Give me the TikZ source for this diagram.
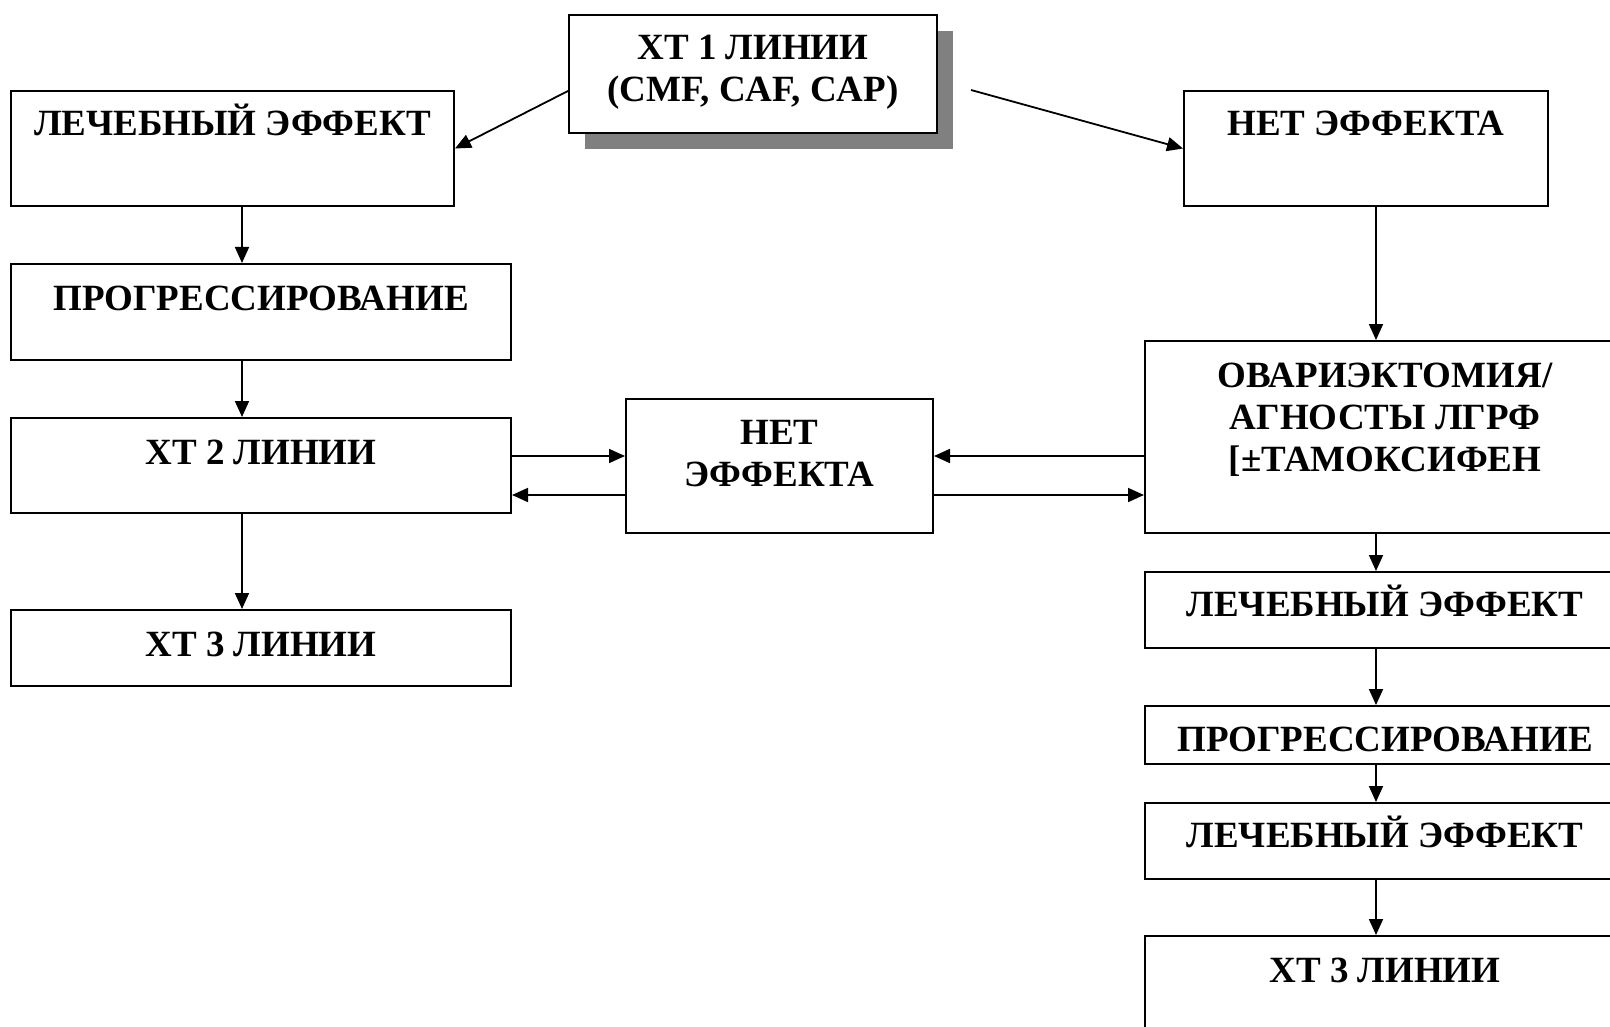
\documentclass[tikz,border=0pt]{standalone}
\usepackage{fontspec}
\setmainfont{Liberation Serif}
\usetikzlibrary{arrows.meta,shadows}
\begin{document}
\begin{tikzpicture}[x=1pt,y=-1pt,
  box/.style={draw=black,line width=2pt,fill=white,rectangle,inner sep=0pt},
  lbl/.style={anchor=base,align=center,inner sep=0pt,
    font=\bfseries\fontsize{37}{42}\selectfont},
  arr/.style={line width=1.8pt,-{Triangle[length=16pt,width=14pt]}},
  shade/.style={drop shadow={shadow xshift=16pt,shadow yshift=-16pt,fill=gray,opacity=1}}]
\useasboundingbox (0,0) rectangle (1610,1027);
\clip (0,0) rectangle (1610,1027);
\fill[white] (0,0) rectangle (1610,1027);

% first-line chemotherapy
\node[box,shade,minimum width=368pt,minimum height=118pt] (top) at (753,74) {};
\node[lbl] (toptxt) at (753,102) {ХТ 1 ЛИНИИ\\(CMF, CAF, CAP)};

% left branch
\node[box,minimum width=443pt,minimum height=115pt] (lb1) at (232.5,148.5) {};
\node[lbl] (lb1txt) at (232.5,136) {ЛЕЧЕБНЫЙ ЭФФЕКТ};
\node[box,minimum width=500pt,minimum height=96pt] (lprog) at (261,312) {};
\node[lbl] (lprogtxt) at (261,310) {ПРОГРЕССИРОВАНИЕ};
\node[box,minimum width=500pt,minimum height=95pt] (xt2) at (261,465.5) {};
\node[lbl] (xt2txt) at (261,464) {ХТ 2 ЛИНИИ};
\node[box,minimum width=500pt,minimum height=76pt] (xt3l) at (261,648) {};
\node[lbl] (xt3ltxt) at (261,656) {ХТ 3 ЛИНИИ};

% middle
\node[box,minimum width=307pt,minimum height=134pt] (net2) at (779.5,466) {};
\node[lbl] (net2txt) at (779.5,486) {НЕТ\\ЭФФЕКТА};

% right branch
\node[box,minimum width=364pt,minimum height=115pt] (net1) at (1366,148.5) {};
\node[lbl] (net1txt) at (1366,136) {НЕТ ЭФФЕКТА};
\node[box,minimum width=480pt,minimum height=192pt] (ovar) at (1385,437) {};
\node[lbl] (ovartxt) at (1385,471) {ОВАРИЭКТОМИЯ/\\АГНОСТЫ ЛГРФ\\{[}±ТАМОКСИФЕН};
\node[box,minimum width=480pt,minimum height=76pt] (rl1) at (1385,610) {};
\node[lbl] (rl1txt) at (1385,616) {ЛЕЧЕБНЫЙ ЭФФЕКТ};
\node[box,minimum width=480pt,minimum height=58pt] (rprog) at (1385,735) {};
\node[lbl] (rprogtxt) at (1385,751) {ПРОГРЕССИРОВАНИЕ};
\node[box,minimum width=480pt,minimum height=76pt] (rl2) at (1385,841) {};
\node[lbl] (rl2txt) at (1385,847) {ЛЕЧЕБНЫЙ ЭФФЕКТ};
\node[box,minimum width=480pt,minimum height=154pt] (rxt3) at (1385,1013) {};
\node[lbl] (rxt3txt) at (1385,982) {ХТ 3 ЛИНИИ};

% connectors
\coordinate (topR) at (971,90);
\draw[arr] (top.west |- 0,91) -- (lb1.east);
\draw[arr] (topR) -- (net1.west);

\draw[arr] (lb1.south -| 242,0) -- (lprog.north -| 242,0);
\draw[arr] (lprog.south -| 242,0) -- (xt2.north -| 242,0);
\draw[arr] (xt2.south -| 242,0) -- (xt3l.north -| 242,0);

\draw[arr] (xt2.east |- 0,456) -- (net2.west |- 0,456);
\draw[arr] (net2.west |- 0,495) -- (xt2.east |- 0,495);
\draw[arr] (ovar.west |- 0,456) -- (net2.east |- 0,456);
\draw[arr] (net2.east |- 0,495) -- (ovar.west |- 0,495);

\draw[arr] (net1.south -| 1376,0) -- (ovar.north -| 1376,0);
\draw[arr] (ovar.south -| 1376,0) -- (rl1.north -| 1376,0);
\draw[arr] (rl1.south -| 1376,0) -- (rprog.north -| 1376,0);
\draw[arr] (rprog.south -| 1376,0) -- (rl2.north -| 1376,0);
\draw[arr] (rl2.south -| 1376,0) -- (rxt3.north -| 1376,0);
\end{tikzpicture}
\end{document}
